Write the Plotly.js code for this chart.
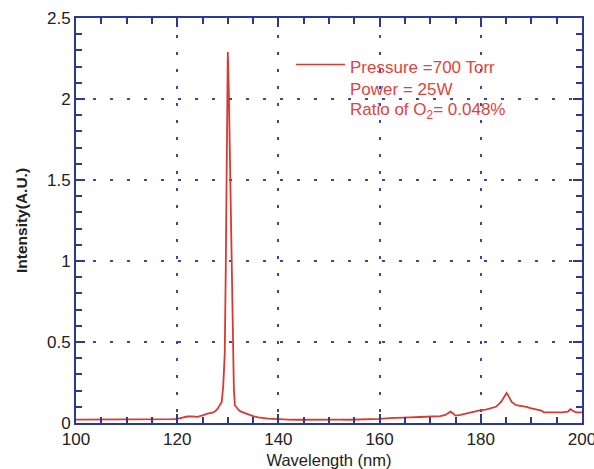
<!DOCTYPE html>
<html>
<head>
<meta charset="utf-8">
<script src="https://cdn.plot.ly/plotly-3.0.1.min.js"></script>
<style>html,body{margin:0;padding:0;background:#fff;}#chart{width:594px;height:469px;}</style>
</head>
<body>
<div id="chart"></div>
<script>
var wavelength = [100,102,104,106,108,110,112,114,116,118,119,120,121,122,123,124,125,126,127,127.5,128,128.5,128.8,129.1,129.4,129.6,129.8,130,130.2,130.4,130.6,130.8,131,131.2,131.4,131.7,132,132.5,133,134,135,136,137,138,139,140,142,144,146,148,150,152,154,156,158,160,162,164,166,168,170,172,173,174,174.5,175,176,177,178,179,180,181,182,183,184,184.6,185.1,185.6,186.1,187,188,189,190,191,192,192.5,194,196,197.2,197.7,198.5,199,200];
var intensity = [0.021,0.021,0.021,0.021,0.021,0.021,0.021,0.022,0.022,0.023,0.024,0.026,0.034,0.04,0.041,0.038,0.047,0.058,0.064,0.072,0.088,0.112,0.13,0.23,0.43,0.96,1.6,2.29,2.05,1.7,1.32,0.97,0.45,0.21,0.11,0.095,0.085,0.072,0.065,0.055,0.042,0.035,0.03,0.027,0.025,0.023,0.021,0.02,0.021,0.02,0.02,0.021,0.02,0.021,0.022,0.025,0.03,0.034,0.035,0.037,0.04,0.042,0.05,0.07,0.06,0.046,0.05,0.058,0.064,0.074,0.08,0.082,0.09,0.1,0.13,0.16,0.185,0.16,0.13,0.11,0.105,0.1,0.09,0.085,0.076,0.066,0.065,0.065,0.07,0.085,0.07,0.066,0.065];
var legendLines = ["Pressure =700 Torr","Power = 25W","Ratio of O<sub>2</sub>= 0.048%"];
var xTicks = [100,120,140,160,180,200];
var yTicks = [0,0.5,1,1.5,2,2.5];

var navy = "#2b3990";
var red = "#d83a32";
var txtRed = "#e0443c";
var fam = "Liberation Sans, Arial, sans-serif";

var trace = {
  x: wavelength, y: intensity, type: "scatter", mode: "lines",
  line: {color: red, width: 1.8}, showlegend: false
};

var axisCommon = {
  showline: true, linecolor: navy, linewidth: 2, mirror: "allticks",
  ticks: "inside", ticklen: 9, tickwidth: 2, tickcolor: navy,
  showgrid: true, gridcolor: "#3a48a0", gridwidth: 2, griddash: "3px,14px",
  zeroline: false, ticklabeloverflow: "allow",
  tickfont: {family: fam, size: 17, color: "#222"}
};

var layout = {
  width: 594, height: 469,
  margin: {l: 76, r: 12, t: 18, b: 46},
  paper_bgcolor: "#fff", plot_bgcolor: "#fff",
  xaxis: Object.assign({}, axisCommon, {
    range: [100, 200], tickvals: xTicks, ticktext: xTicks.map(String),
    minor: {ticks: "inside", dtick: 5, ticklen: 6, tickcolor: navy, tickwidth: 2, showgrid: false},
    title: {text: "Wavelength (nm)", font: {family: fam, size: 16.5, color: "#222"}, standoff: 8}
  }),
  yaxis: Object.assign({}, axisCommon, {
    range: [0, 2.5], tickvals: yTicks, ticktext: yTicks.map(String),
    minor: {ticks: "inside", dtick: 0.1, ticklen: 6, tickcolor: navy, tickwidth: 2, showgrid: false},
    title: {text: "<b>Intensity(A.U.)</b>", font: {family: fam, size: 15.5, color: "#222"}, standoff: 16}
  }),
  shapes: [{
    type: "line", xref: "paper", yref: "paper",
    x0: (296-76)/506, x1: (345-76)/506, y0: (423-64.5)/405, y1: (423-64.5)/405,
    line: {color: red, width: 1.5}
  }],
  annotations: legendLines.map(function(t, i){
    var py = [67.5, 89.5, 110.5][i];
    return {
      text: t, xref: "paper", yref: "paper", x: (348-76)/506, y: (423-py)/405,
      xanchor: "left", yanchor: "middle", showarrow: false, align: "left",
      font: {family: fam, size: 17, color: txtRed}
    };
  })
};

Plotly.newPlot("chart", [trace], layout, {displayModeBar: false});
</script>
</body>
</html>
